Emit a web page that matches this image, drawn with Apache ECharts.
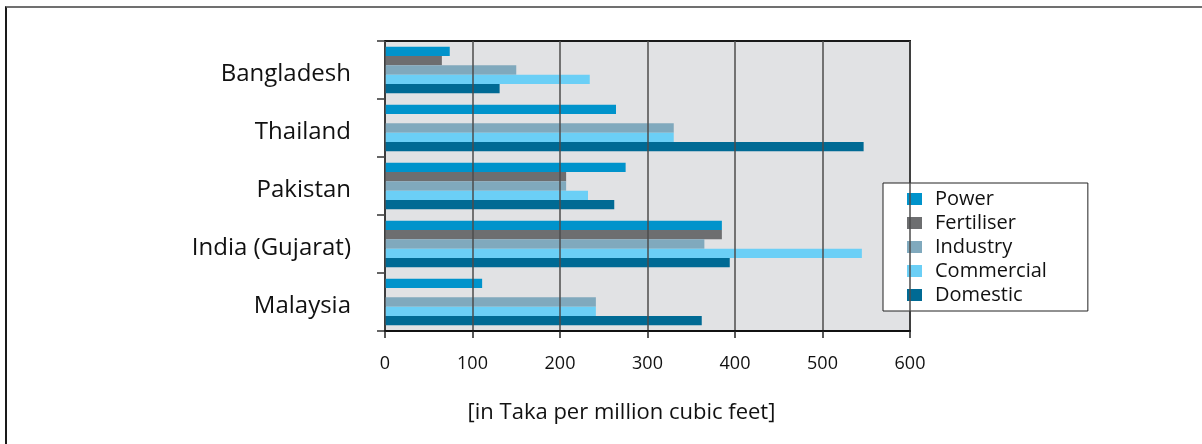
<!DOCTYPE html>
<html>
<head>
<meta charset="utf-8">
<script src="https://cdn.jsdelivr.net/npm/echarts@6/dist/echarts.min.js"></script>
<style>
  html, body { margin: 0; padding: 0; background: #fff; }
  #wrap { position: relative; width: 1202px; height: 444px; }
  #chart { position: absolute; left: 0; top: 0; width: 1202px; height: 444px; }
  #frame {
    position: absolute; left: 5px; top: 6px; right: 0; bottom: 0;
    border-top: 2px solid #707070; border-left: 2px solid #1a1a1a;
    pointer-events: none;
  }
</style>
</head>
<body>
<div id="wrap">
  <div id="chart"></div>
  <div id="frame"></div>
</div>
<script>
// Gas price by consumer group, per country
const countries = ['Bangladesh', 'Thailand', 'Pakistan', 'India (Gujarat)', 'Malaysia'];
const seriesNames = ['Power', 'Fertiliser', 'Industry', 'Commercial', 'Domestic'];
const power      = [74, 264, 275, 385, 111];
const fertiliser = [65, null, 207, 385, null];
const industry   = [150, 330, 207, 365, 241];
const commercial = [234, 330, 232, 545, 241];
const domestic   = [131, 547, 262, 394, 362];
const xTicks = { min: 0, max: 600, interval: 100 };
const axisTitle = '[in Taka per million cubic feet]';

const colors = ['#0093CB', '#6D6E70', '#80A9BD', '#6BCFF6', '#006A94'];
const values = [power, fertiliser, industry, commercial, domestic];
const FONT = '"Open Sans", "DejaVu Sans", sans-serif';
const CLEAR = 'rgba(0,0,0,0)';

const chart = echarts.init(document.getElementById('chart'), null, { renderer: 'canvas' });

chart.setOption({
  animation: false,
  textStyle: { fontFamily: FONT },
  grid: {
    left: 385, right: 292, top: 41, bottom: 113,
    show: true, backgroundColor: '#E1E2E4', borderColor: '#1a1a1a', borderWidth: 2
  },
  legend: {
    orient: 'vertical',
    left: 883, top: 183,
    backgroundColor: '#fff',
    borderColor: '#222', borderWidth: 1, borderRadius: 0,
    padding: [6, 41, 6, 24],
    itemWidth: 15, itemHeight: 12, itemGap: 4,
    icon: 'rect',
    itemStyle: { borderWidth: 0 },
    textStyle: { fontFamily: FONT, fontSize: 20, lineHeight: 20, color: '#111', padding: [0, 0, 0, 8] },
    data: seriesNames
  },
  xAxis: {
    type: 'value',
    z: 10,
    min: xTicks.min, max: xTicks.max, interval: xTicks.interval,
    name: axisTitle,
    nameLocation: 'middle',
    nameGap: 71,
    nameTextStyle: {
      fontFamily: FONT, fontSize: 22, color: '#111',
      backgroundColor: CLEAR, padding: [0, 52, 0, 0]
    },
    axisLine: { show: true, lineStyle: { color: '#111', width: 2 } },
    axisTick: { show: true, length: 7, lineStyle: { color: '#222', width: 1.5 } },
    axisLabel: { fontFamily: FONT, fontSize: 18, color: '#111', margin: 24 },
    splitLine: { show: true, lineStyle: { color: '#4d4d4d', width: 1.5 } }
  },
  yAxis: {
    type: 'category',
    inverse: true,
    data: countries,
    axisLine: { show: true, lineStyle: { color: '#111', width: 2 } },
    axisTick: { show: true, length: 8, alignWithLabel: false, lineStyle: { color: '#333', width: 1.5 } },
    axisLabel: {
      fontFamily: FONT, fontSize: 24, color: '#111', margin: 34,
      verticalAlign: 'top', lineHeight: 8
    },
    splitLine: { show: false }
  },
  series: seriesNames.map((name, i) => ({
    name: name,
    type: 'bar',
    data: values[i],
    barGap: '0%',
    barCategoryGap: '20%',
    itemStyle: { color: colors[i] },
    emphasis: { disabled: true }
  }))
});
</script>
</body>
</html>
